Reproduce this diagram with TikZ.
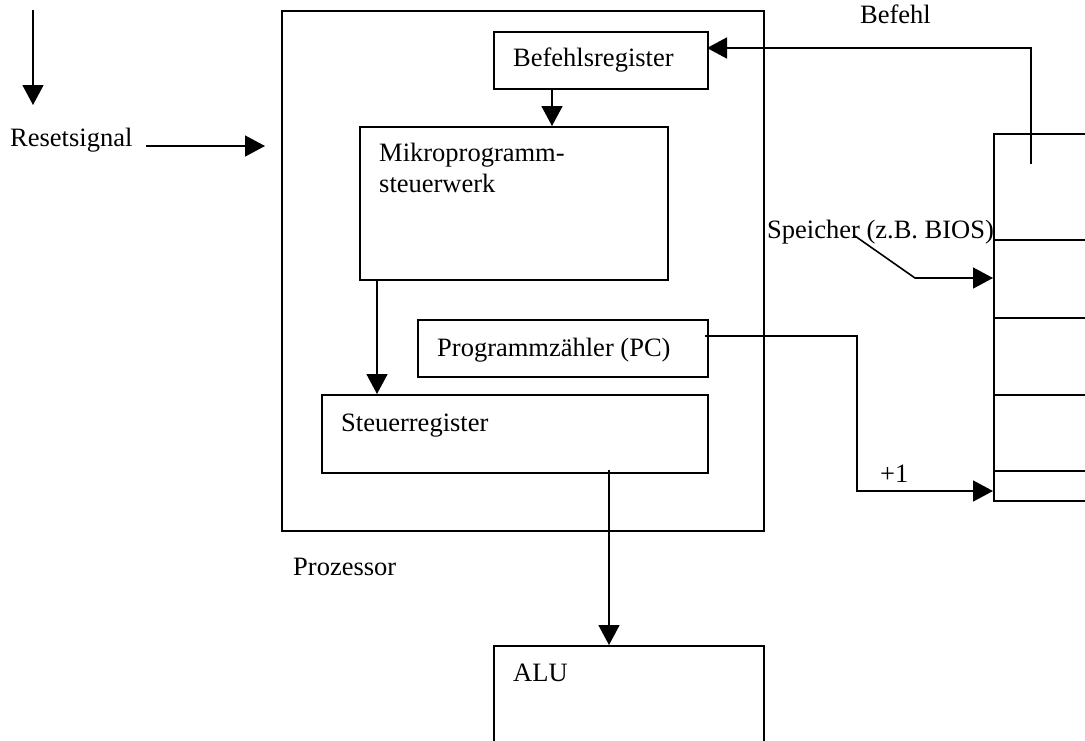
\documentclass[tikz,border=0pt]{standalone}
\usepackage{fontspec}
\setmainfont{Liberation Serif}
\usetikzlibrary{arrows.meta}
\begin{document}
\begin{tikzpicture}[x=1pt,y=-1pt,
  box/.style={draw,line width=1.6pt,inner sep=0pt,anchor=north west},
  lbl/.style={inner sep=0pt,anchor=base west,font=\fontsize{26.5}{31}\selectfont},
  arr/.style={line width=1.6pt,-{Triangle[length=20pt,width=21pt]}},
  ln/.style={line width=1.6pt}]
\useasboundingbox (0,0) rectangle (1085,740);
\clip (0,0) rectangle (1085,740);

% boxes
\node[box,minimum width=482pt,minimum height=520pt] (proc) at (281,10) {};
\node[box,minimum width=214pt,minimum height=57pt] (br) at (493,31) {};
\node[box,minimum width=308pt,minimum height=153pt] (mp) at (359,126) {};
\node[box,minimum width=290pt,minimum height=57pt] (pc) at (417,319) {};
\node[box,minimum width=386pt,minimum height=78pt] (st) at (321,394) {};
\node[box,minimum width=270pt,minimum height=130pt] (alu) at (493,645) {};
\node[box,minimum width=130pt,minimum height=367pt] (mem) at (993,133) {};

% memory rows
\coordinate (m1) at (993,240);
\coordinate (m2) at (993,318);
\coordinate (m3) at (993,395);
\coordinate (m4) at (993,471);
\foreach \m in {m1,m2,m3,m4} \draw[ln] (\m) -- ++(120,0);

% texts
\node[lbl] (tbr) at (513,66.5) {Befehlsregister};
\node[lbl] (tmp1) at (379,161.5) {Mikroprogramm-};
\node[lbl] (tmp2) at (379,192.5) {steuerwerk};
\node[lbl] (tpc) at (437,356.5) {Programmzähler (PC)};
\node[lbl] (tst) at (341,431.5) {Steuerregister};
\node[lbl] (tproc) at (293,575) {Prozessor};
\node[lbl] (talu) at (513,681.5) {ALU};
\node[lbl] (reset) at (10,146.5) {Resetsignal};
\node[lbl] (befehl) at (860,23.5) {Befehl};
\node[lbl] (speicher) at (767,238.5) {Speicher (z.B. BIOS)};
\node[lbl] (plus) at (880,482.5) {+1};

% top-left arrow
\coordinate (tl1) at (33,10);
\coordinate (tl2) at (33,105);
\draw[arr] (tl1) -- (tl2);

% reset arrow
\coordinate (rs1) at (146,146);
\coordinate (rs2) at (265,146);
\draw[arr] (rs1) -- (rs2);

% Befehlsregister -> Mikroprogramm
\coordinate (brout) at (552,88);
\draw[arr] (brout) -- (brout |- mp.north);

% Mikroprogramm -> Steuerregister
\coordinate (mpout) at (377,279);
\draw[arr] (mpout) -- (mpout |- st.north);

% Steuerregister -> ALU
\coordinate (stout) at (609,470);
\draw[arr] (stout) -- (stout |- alu.north);

% Befehl: memory -> Befehlsregister
\coordinate (memtop) at (1031,164);
\coordinate (befin) at (707,48);
\draw[arr] (memtop) |- (befin);

% Speicher leader
\coordinate (s1) at (855,236);
\coordinate (s2) at (915,278);
\draw[arr] (s1) -- (s2) -- (s2 -| mem.west);

% PC -> memory (+1)
\coordinate (pcout) at (705,336);
\coordinate (pcturn) at (857,491);
\draw[arr] (pcout) -| (pcturn) -- (pcturn -| mem.west);
\end{tikzpicture}
\end{document}
